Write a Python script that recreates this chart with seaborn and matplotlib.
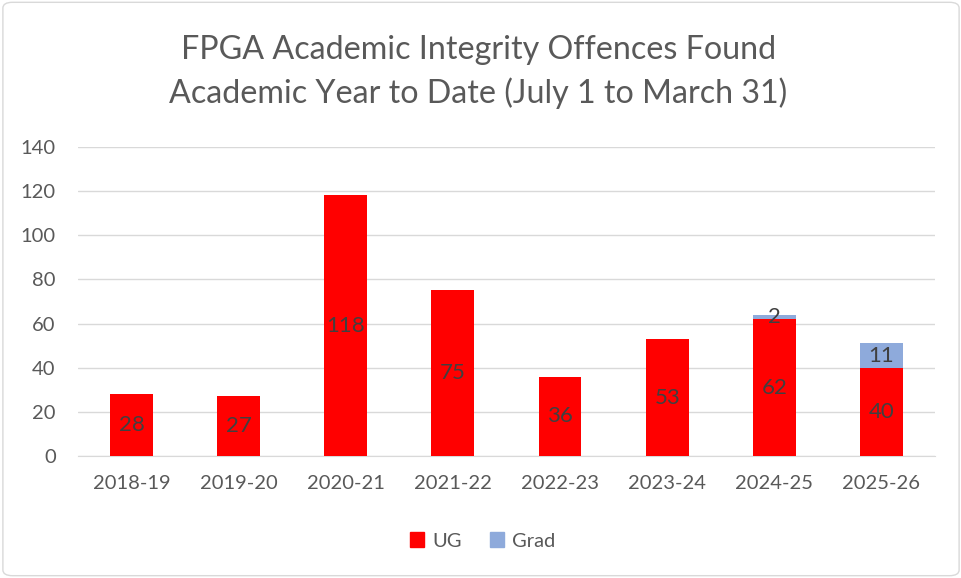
import matplotlib
matplotlib.use('Agg')
import matplotlib.pyplot as plt
import seaborn as sns
import pandas as pd
from matplotlib.patches import FancyBboxPatch, Patch

years = ['2018-19', '2019-20', '2020-21', '2021-22', '2022-23', '2023-24', '2024-25', '2025-26']
ug = [28, 27, 118, 75, 36, 53, 62, 40]
grad = [0, 0, 0, 0, 0, 0, 2, 11]

df = pd.DataFrame({'year': years, 'UG': ug, 'Grad': grad})
df['total'] = df['UG'] + df['Grad']

sns.set_style('white')
plt.rcParams['font.family'] = ['Lato', 'DejaVu Sans']

fig = plt.figure(figsize=(9.62, 5.78), dpi=100)
ax = fig.add_axes([0.081, 0.211, 0.891, 0.535])

red = '#ff0000'
blue = '#8eaadb'
txt = '#595959'

# stacked: total in blue underneath, UG in red on top
sns.barplot(x='year', y='total', data=df, color=blue, width=0.4, saturation=1, ax=ax,
            zorder=2, linewidth=0)
sns.barplot(x='year', y='UG', data=df, color=red, width=0.4, saturation=1, ax=ax,
            zorder=3, linewidth=0)

ax.bar_label(ax.containers[1], labels=[str(v) for v in ug], label_type='center',
             fontsize=16, color='#404040', zorder=4)
for i, (u, g) in enumerate(zip(ug, grad)):
    if g > 0:
        ax.text(i, u + g / 2, str(g), ha='center', va='center', fontsize=16, color='#404040', zorder=4)

ax.set_ylim(0, 140)
ax.set_xlim(-0.5, 7.5)
ax.set_yticks(range(0, 141, 20))
ax.yaxis.grid(True, color='#d9d9d9', linewidth=1)
ax.set_axisbelow(True)
for s in ['top', 'right', 'left']:
    ax.spines[s].set_visible(False)
ax.spines['bottom'].set_color('#d9d9d9')
ax.tick_params(axis='both', length=0, labelsize=14.5, colors=txt)
ax.tick_params(axis='x', pad=14)
ax.tick_params(axis='y', pad=16)
ax.set_xlabel('')
ax.set_ylabel('')

fig.text(0.497, 0.875, 'FPGA Academic Integrity Offences Found\nAcademic Year to Date (July 1 to March 31)',
         ha='center', va='center', fontsize=23.2, color=txt, linespacing=1.5)

handles = [Patch(color=red, label='UG'), Patch(color=blue, label='Grad')]
fig.legend(handles=handles, loc='center', bbox_to_anchor=(0.502, 0.064), ncol=2, frameon=False,
           fontsize=14.5, handlelength=0.7, handleheight=0.7, handletextpad=0.4, columnspacing=1.4,
           labelcolor=txt)

border = FancyBboxPatch((0.003, 0.004), 0.994, 0.992, boxstyle='round,pad=0,rounding_size=0.01',
                        transform=fig.transFigure, fill=False, edgecolor='#d9d9d9', linewidth=1)
fig.patches.append(border)

fig.savefig('out.png', dpi=100)
